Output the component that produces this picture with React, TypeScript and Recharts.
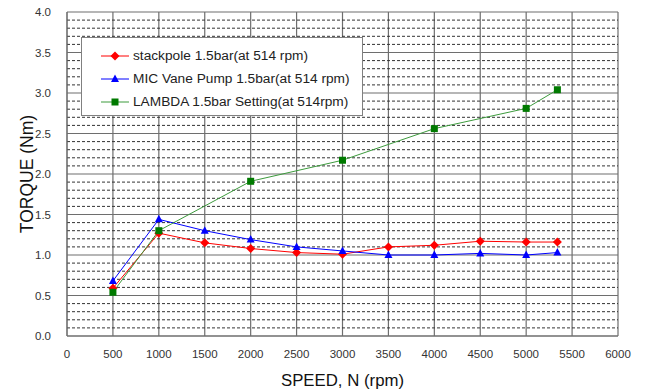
import React from "react";
import { LineChart, Line, XAxis, YAxis, CartesianGrid, ReferenceLine, Label } from "recharts";

const speeds = [500, 1000, 1500, 2000, 2500, 3000, 3500, 4000, 4500, 5000, 5340];
const stackpole = [0.59, 1.27, 1.15, 1.08, 1.03, 1.01, 1.1, 1.12, 1.17, 1.16, 1.16];
const micVane = [0.68, 1.44, 1.3, 1.19, 1.1, 1.05, 1.0, 1.0, 1.02, 1.0, 1.03];
const lambdaSpeeds = [500, 1000, 2000, 3000, 4000, 5000, 5340];
const lambda = [0.54, 1.3, 1.91, 2.17, 2.56, 2.81, 3.04];

const xTicks = [0, 500, 1000, 1500, 2000, 2500, 3000, 3500, 4000, 4500, 5000, 5500, 6000];
const yTicks = [0, 0.5, 1, 1.5, 2, 2.5, 3, 3.5, 4];
const minorY = Array.from({ length: 40 }, (_, i) => i / 10).filter((v, i) => i % 5 !== 0);

const data = speeds.map((s, i) => {
  const li = lambdaSpeeds.indexOf(s);
  return { speed: s, stackpole: stackpole[i], mic: micVane[i], lambda: li >= 0 ? lambda[li] : null };
});

const SERIES = [
  { key: "stackpole", name: "stackpole 1.5bar(at 514 rpm)", line: "#ff0000", mark: "#ff0000", shape: "diamond" },
  { key: "mic", name: "MIC Vane Pump 1.5bar(at 514 rpm)", line: "#0000ff", mark: "#0000ff", shape: "triangle" },
  { key: "lambda", name: "LAMBDA 1.5bar Setting(at 514rpm)", line: "#3d9b3d", mark: "#007a00", shape: "square" },
];

function Marker({ cx, cy, shape, color }: { cx: number; cy: number; shape: string; color: string }) {
  if (cx == null || cy == null) return null;
  if (shape === "diamond")
    return <polygon points={`${cx},${cy - 4.5} ${cx + 4.5},${cy} ${cx},${cy + 4.5} ${cx - 4.5},${cy}`} fill={color} />;
  if (shape === "triangle")
    return <polygon points={`${cx},${cy - 4.5} ${cx + 4},${cy + 3} ${cx - 4},${cy + 3}`} fill={color} />;
  return <rect x={cx - 3.5} y={cy - 3.5} width={7} height={7} fill={color} />;
}

function LegendBox() {
  return (
    <div
      style={{
        position: "absolute",
        left: 81,
        top: 37,
        width: 282,
        height: 79,
        background: "#fff",
        border: "1px solid #808080",
        boxSizing: "border-box",
        paddingTop: 6,
      }}
    >
      {SERIES.map((s) => (
        <div key={s.key} style={{ display: "flex", alignItems: "center", height: 23, fontFamily: "Liberation Sans, Arial", fontSize: 13.7, color: "#222" }}>
          <svg width={52} height={12} style={{ marginLeft: 19 }}>
            <line x1={0} x2={28} y1={6} y2={6} stroke={s.line} strokeWidth={1} />
            <Marker cx={14} cy={6} shape={s.shape} color={s.mark} />
          </svg>
          <span style={{ marginLeft: -20 }}>{s.name}</span>
        </div>
      ))}
    </div>
  );
}

export default function App() {
  const tickStyle = { fontSize: 11.5, fill: "#333", fontFamily: "Liberation Sans, Arial" };
  return (
    <div style={{ position: "absolute", left: 0, top: 0, width: 645, height: 390, background: "#fff" }}>
      <LineChart width={645} height={390} data={data} margin={{ top: 12, right: 27, bottom: 0, left: 0 }}>
        {minorY.map((v) => (
          <ReferenceLine key={v} y={v} stroke="#333" strokeDasharray="3 2" strokeWidth={1} />
        ))}
        <CartesianGrid stroke="#6e6e6e" strokeWidth={1.2} />
        <XAxis
          dataKey="speed"
          type="number"
          domain={[0, 6000]}
          ticks={xTicks}
          interval={0}
          height={54}
          tickLine={false}
          axisLine={{ stroke: "#6e6e6e" }}
          tick={tickStyle}
          tickMargin={8}
        >
          <Label value="SPEED, N (rpm)" position="insideBottom" offset={4} style={{ fontSize: 16.8, fill: "#111", fontFamily: "Liberation Sans, Arial" }} />
        </XAxis>
        <YAxis
          type="number"
          domain={[0, 4]}
          ticks={yTicks}
          interval={0}
          width={67}
          tickLine={false}
          axisLine={{ stroke: "#6e6e6e" }}
          tick={tickStyle}
          tickMargin={10}
          tickFormatter={(v: number) => v.toFixed(1)}
        >
          <Label value="TORQUE (Nm)" angle={-90} position="insideLeft" offset={27} style={{ fontSize: 17.5, fill: "#111", fontFamily: "Liberation Sans, Arial", textAnchor: "middle" }} />
        </YAxis>
        {SERIES.map((s) => (
          <Line
            key={s.key}
            dataKey={s.key}
            name={s.name}
            stroke={s.line}
            strokeWidth={1}
            connectNulls
            isAnimationActive={false}
            dot={(p: any) => <Marker key={`${s.key}-${p.index}`} cx={p.cx} cy={p.cy} shape={s.shape} color={s.mark} />}
            activeDot={false}
          />
        ))}
      </LineChart>
      <LegendBox />
    </div>
  );
}
